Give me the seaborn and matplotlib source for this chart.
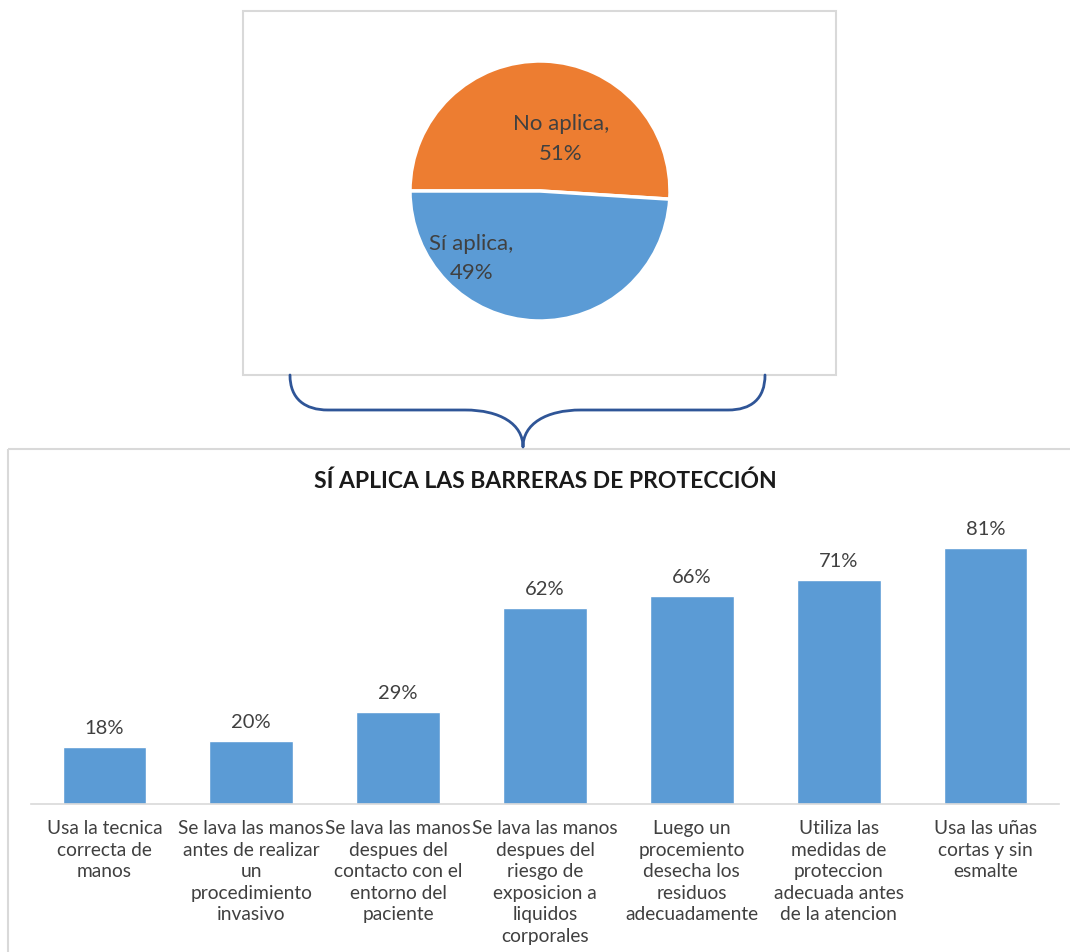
import matplotlib
matplotlib.use("Agg")
import matplotlib.pyplot as plt
from matplotlib.patches import Rectangle, PathPatch
from matplotlib.path import Path
import seaborn as sns
import pandas as pd

# ---- data ----
pie_labels = ["No aplica", "Sí aplica"]
pie_values = [51, 49]

bar_categories = [
    "Usa la tecnica\ncorrecta de\nmanos",
    "Se lava las manos\nantes de realizar\nun\nprocedimiento\ninvasivo",
    "Se lava las manos\ndespues del\ncontacto con el\nentorno del\npaciente",
    "Se lava las manos\ndespues del\nriesgo de\nexposicion a\nliquidos\ncorporales",
    "Luego un\nprocemiento\ndesecha los\nresiduos\nadecuadamente",
    "Utiliza las\nmedidas de\nproteccion\nadecuada antes\nde la atencion",
    "Usa las uñas\ncortas y sin\nesmalte",
]
bar_values = [18, 20, 29, 62, 66, 71, 81]
bar_title = "SÍ APLICA LAS BARRERAS DE PROTECCIÓN"

# ---- style ----
sns.set_theme(style="white")
plt.rcParams["font.family"] = ["Lato", "DejaVu Sans"]

ORANGE = "#ED7D31"
BLUE = "#5B9BD5"
TEXT = "#404040"
FRAME = "#D9D9D9"
BRACE = "#2F5597"

W, H = 1070, 953
fig = plt.figure(figsize=(W / 100, H / 100), dpi=100)
fig.patch.set_facecolor("white")


def fig_rect(x0, y0, x1, y1):
    """Pixel box (top-left origin) -> figure fraction rect."""
    return [x0 / W, 1 - y1 / H, (x1 - x0) / W, (y1 - y0) / H]


# overlay axes in pixel coordinates for frames and the brace
over = fig.add_axes([0, 0, 1, 1])
over.set_xlim(0, W)
over.set_ylim(H, 0)
over.axis("off")
over.add_patch(Rectangle((243, 12), 593, 364, fill=False, edgecolor=FRAME, lw=1.5))
over.add_patch(Rectangle((8, 450), 1070, 510, fill=False, edgecolor=FRAME, lw=1.5))

verts = [
    (290, 376), (290, 400), (305, 411), (328, 411),
    (465, 411),
    (500, 411), (523, 425), (523, 448),
    (523, 425), (546, 411), (581, 411),
    (728, 411),
    (751, 411), (765, 400), (765, 376),
]
codes = [Path.MOVETO, Path.CURVE4, Path.CURVE4, Path.CURVE4,
         Path.LINETO,
         Path.CURVE4, Path.CURVE4, Path.CURVE4,
         Path.CURVE4, Path.CURVE4, Path.CURVE4,
         Path.LINETO,
         Path.CURVE4, Path.CURVE4, Path.CURVE4]
over.add_patch(PathPatch(Path(verts, codes), fill=False, edgecolor=BRACE, lw=2,
                         capstyle="round", joinstyle="round"))

# ---- pie ----
ax_pie = fig.add_axes(fig_rect(410, 62, 670, 322))
wedges, _ = ax_pie.pie(
    pie_values,
    colors=[ORANGE, BLUE],
    startangle=180,
    counterclock=False,
    wedgeprops=dict(edgecolor="white", linewidth=2.5),
    radius=1.0,
)
ax_pie.set_xlim(-1.0, 1.0)
ax_pie.set_ylim(-1.0, 1.0)
ax_pie.set_aspect("equal")
ax_pie.text(0.16, 0.41, f"{pie_labels[0]},\n{pie_values[0]}%", ha="center", va="center",
            fontsize=16, color=TEXT, linespacing=1.6)
ax_pie.text(-0.53, -0.51, f"{pie_labels[1]},\n{pie_values[1]}%", ha="center", va="center",
            fontsize=16, color=TEXT, linespacing=1.6)

# ---- bars ----
ax = fig.add_axes(fig_rect(31, 521, 1059, 805))
df = pd.DataFrame({"cat": bar_categories, "val": bar_values})
sns.barplot(data=df, x="cat", y="val", color=BLUE, saturation=1, width=0.57, ax=ax)
ax.set_ylim(0, 90)
ax.set_xlim(-0.5, len(bar_categories) - 0.5)
ax.set_xlabel("")
ax.set_ylabel("")
ax.set_yticks([])
for s in ["top", "left", "right"]:
    ax.spines[s].set_visible(False)
ax.spines["bottom"].set_color(FRAME)
ax.spines["bottom"].set_linewidth(1.2)
ax.tick_params(axis="x", length=0, pad=11, labelsize=13.8, labelcolor=TEXT)
for lbl in ax.get_xticklabels():
    lbl.set_multialignment("center")
    lbl.set_linespacing(1.32)
ax.set_facecolor("none")
for container in ax.containers:
    ax.bar_label(container, labels=[f"{v}%" for v in bar_values], padding=8,
                 fontsize=14.5, color=TEXT)

fig.text(545 / W, 1 - 481 / H, bar_title, ha="center", va="center",
         fontsize=16.5, fontweight="bold", color="#1a1a1a")

fig.savefig("out.png", dpi=100)
